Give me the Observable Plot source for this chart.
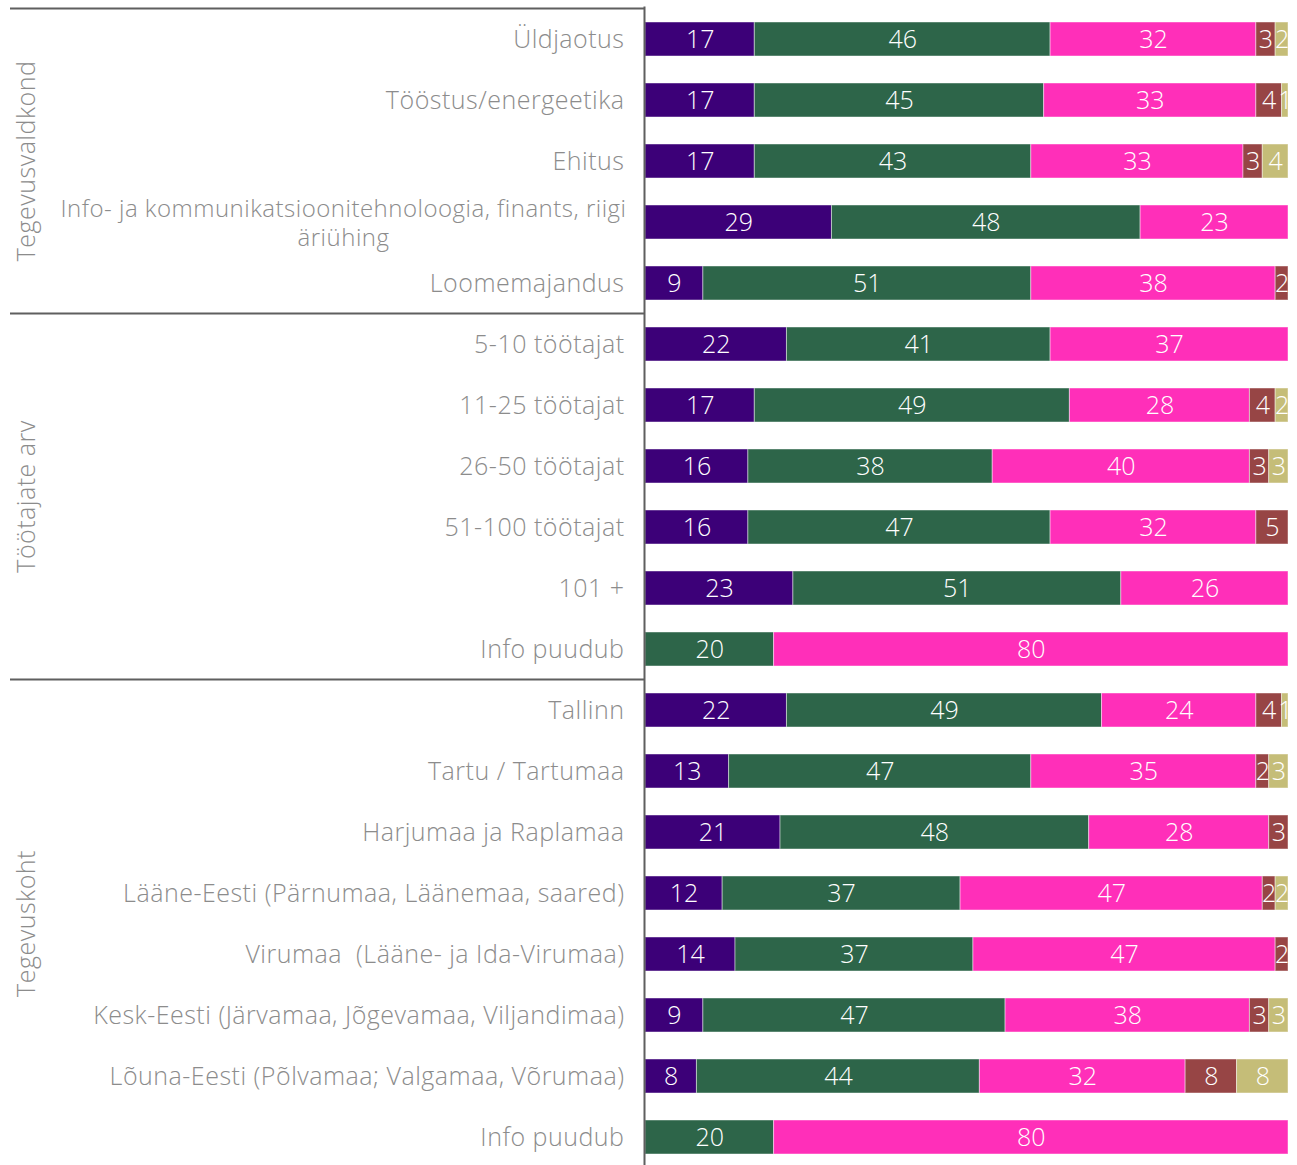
<!DOCTYPE html>
<html>
<head>
<meta charset="utf-8">
<script src="https://cdn.jsdelivr.net/npm/d3@7"></script>
<script src="https://cdn.jsdelivr.net/npm/@observablehq/plot@0.6"></script>
<style>
  html, body { margin: 0; padding: 0; background: #fff; }
  #chart { width: 1297px; }
  svg { font-family: "Open Sans", Lato, sans-serif; font-weight: 300; }
  .lbl text, text.lbl { letter-spacing: 0.5px; }
</style>
</head>
<body>
<div id="chart"></div>
<script>
const categories = [
  "Üldjaotus",
  "Tööstus/energeetika",
  "Ehitus",
  "Info- ja kommunikatsioonitehnoloogia, finants, riigi\näriühing",
  "Loomemajandus",
  "5-10 töötajat",
  "11-25 töötajat",
  "26-50 töötajat",
  "51-100 töötajat",
  "101 +",
  "Info puudub",
  "Tallinn",
  "Tartu / Tartumaa",
  "Harjumaa ja Raplamaa",
  "Lääne-Eesti (Pärnumaa, Läänemaa, saared)",
  "Virumaa  (Lääne- ja Ida-Virumaa)",
  "Kesk-Eesti (Järvamaa, Jõgevamaa, Viljandimaa)",
  "Lõuna-Eesti (Põlvamaa; Valgamaa, Võrumaa)",
  "Info puudub"
];
const groupNames = ["Tegevusvaldkond", "Töötajate arv", "Tegevuskoht"];
const groupSizes = [5, 6, 8];

const seriesNames = ["Seeria 1", "Seeria 2", "Seeria 3", "Seeria 4", "Seeria 5"];
const seriesColors = ["#3c0078", "#2d6549", "#ff2fb9", "#974545", "#c5bd78"];

const s1 = [17, 17, 17, 29, 9, 22, 17, 16, 16, 23, 0, 22, 13, 21, 12, 14, 9, 8, 0];
const s2 = [46, 45, 43, 48, 51, 41, 49, 38, 47, 51, 20, 49, 47, 48, 37, 37, 47, 44, 20];
const s3 = [32, 33, 33, 23, 38, 37, 28, 40, 32, 26, 80, 24, 35, 28, 47, 47, 38, 32, 80];
const s4 = [3, 4, 3, 0, 2, 0, 4, 3, 5, 0, 0, 4, 2, 3, 2, 2, 3, 8, 0];
const s5 = [2, 1, 4, 0, 0, 0, 2, 3, 0, 0, 0, 1, 3, 0, 2, 0, 3, 8, 0];
const seriesValues = [s1, s2, s3, s4, s5];

const rows = categories.map((c, i) => i);
const table = [];
rows.forEach(i => {
  seriesValues.forEach((vals, j) => {
    if (vals[i] > 0) table.push({row: i, series: seriesNames[j], value: vals[i]});
  });
});

const labelGrey = "#8c8c8c";
const lineGrey = "#5f5f5f";
const longRow = 3;
const font = "'Open Sans', Lato, sans-serif";

const plot = Plot.plot({
  width: 1297,
  height: 1169,
  marginLeft: 645,
  marginRight: 9,
  marginTop: 6.4,
  marginBottom: 0,
  style: {fontFamily: font, fontWeight: 300, background: "#fff"},
  x: {domain: [0, 100], axis: null},
  y: {domain: rows, paddingInner: 0.444, paddingOuter: 0.222, align: 0.5, label: null},
  color: {domain: seriesNames, range: seriesColors},
  marks: [
    Plot.axisY({
      tickSize: 0,
      tickPadding: 21,
      fontSize: 25,
      fill: labelGrey,
      className: "lbl",
      tickFormat: i => i === longRow ? "" : categories[i]
    }),
    Plot.barX(table, Plot.stackX({
      x: "value", y: "row", fill: "series", order: null,
      stroke: "#ffffff", strokeOpacity: 0.45, strokeWidth: 1
    })),
    Plot.text(table, Plot.stackX({
      x: "value", y: "row", z: "series", order: null,
      text: d => String(d.value),
      fill: "white", fontSize: 25, fontWeight: 300
    })),
    Plot.text([longRow], {
      y: d => d,
      text: d => categories[d],
      frameAnchor: "left",
      textAnchor: "middle",
      dx: -302,
      fontSize: 24,
      lineHeight: 1.2,
      fill: labelGrey,
      className: "lbl"
    }),
    Plot.ruleX([0], {stroke: lineGrey, strokeWidth: 2, dx: -1})
  ]
});

document.getElementById("chart").appendChild(plot);

// group separators and group labels, positioned with the plot's own y scale
const y = plot.scale("y");
const svg = d3.select(plot);
const step = y.step, bw = y.bandwidth;
const gap = (step - bw) / 2;
let start = 0;
groupSizes.forEach((n, g) => {
  const top = y.apply(start) - gap;
  const bottom = y.apply(start + n - 1) + bw + gap;
  svg.append("line")
    .attr("x1", 10).attr("x2", 644)
    .attr("y1", top).attr("y2", top)
    .attr("stroke", lineGrey).attr("stroke-width", 2);
  const cy = (top + bottom) / 2;
  svg.append("text")
    .attr("class", "lbl")
    .attr("transform", `translate(25,${cy}) rotate(-90)`)
    .attr("text-anchor", "middle")
    .attr("dominant-baseline", "central")
    .attr("font-family", font)
    .attr("font-size", 25)
    .attr("font-weight", 300)
    .attr("fill", labelGrey)
    .text(groupNames[g]);
  start += n;
});
</script>
</body>
</html>
